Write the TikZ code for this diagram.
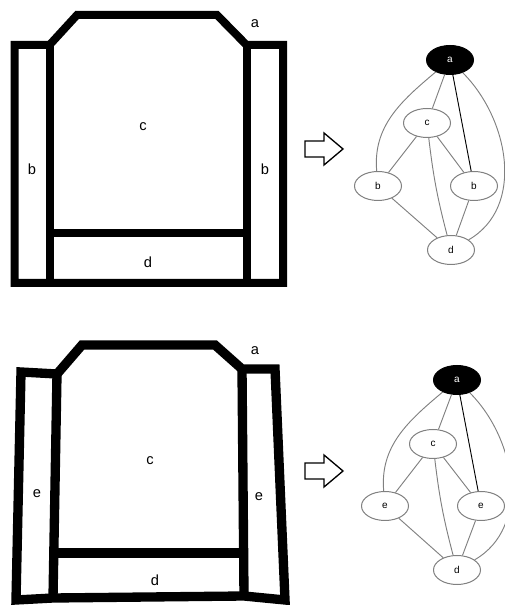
\documentclass[tikz,border=0pt]{standalone}
\usepackage{fontspec}
\setmainfont{Liberation Sans}
\usetikzlibrary{shapes.geometric}
\definecolor{edgegray}{gray}{0.5}
\tikzset{
  wall/.style={line width=6pt, draw=black},
  wallb/.style={line width=7pt, draw=black},
  roomlabel/.style={font=\fontsize{11}{13}\selectfont, inner sep=0pt},
  gnode/.style={ellipse, draw=edgegray, line width=0.75pt, minimum width=35.25pt, minimum height=21.75pt, inner sep=0pt, font=\fontsize{7.5}{9}\selectfont},
  gnodea/.style={gnode, fill=black, draw=black, text=white},
  gedge/.style={draw=edgegray, line width=0.7pt},
  gedgedark/.style={draw=black, line width=0.7pt},
  bigarrow/.style={draw=black, line width=1pt, fill=white, line join=miter}
}
\begin{document}
\begin{tikzpicture}[x=0.75pt,y=0.75pt]
\useasboundingbox (0,0) rectangle (505,605);

% ---------- top plan ----------
\draw[wall] (14.5,322) -- (14.5,560) -- (49.5,560) -- (77,590) -- (217,590) -- (246.5,560) -- (283,560) -- (283,322) -- cycle;
\draw[wall] (49.5,560) -- (49.5,322);
\draw[wall] (246.5,560) -- (246.5,322);
\draw[wall] (49.5,372) -- (246.5,372);
\node[roomlabel] (tc) at (143,478) {c};
\node[roomlabel] (tb1) at (32,436) {b};
\node[roomlabel] (tb2) at (265,436) {b};
\node[roomlabel] (td) at (148,343) {d};
\node[roomlabel] (ta) at (255,581) {a};

% ---------- top arrow ----------
\draw[bigarrow] (305,464) -- (324,464) -- (324,472) -- (343,456) -- (324,440) -- (324,448) -- (305,448) -- cycle;

% ---------- top graph ----------
\node[gnodea] (ga) at (450,545) {a};
\node[gnode] (gc) at (427,482) {c};
\node[gnode] (gb1) at (378,419) {b};
\node[gnode] (gb2) at (474,419) {b};
\node[gnode] (gd) at (451,355) {d};
\draw[gedge] (ga) to[out=220,in=95] (gb1);
\draw[gedge] (ga) -- (gc);
\draw[gedgedark] (ga) -- (gb2);
\draw[gedge] (ga) to[out=-45,in=30] (gd);
\draw[gedge] (gc) -- (gb1);
\draw[gedge] (gc) -- (gb2);
\draw[gedge] (gc) to[bend right=4] (gd);
\draw[gedge] (gb1) -- (gd);
\draw[gedge] (gb2) -- (gd);

% ---------- bottom plan ----------
\draw[wallb] (16,5) -- (21,233) -- (57,231) -- (82,260) -- (215,260) -- (242,236) -- (275,236) -- (285,5) -- (244,9) -- (53,7) -- cycle;
\draw[wallb] (57,231) -- (53,7);
\draw[wallb] (242,236) -- (244,9);
\draw[wallb] (53,52) -- (244,52);
\node[roomlabel] (bc) at (150,144) {c};
\node[roomlabel] (be1) at (37,111) {e};
\node[roomlabel] (be2) at (259,108) {e};
\node[roomlabel] (bd) at (155,25) {d};
\node[roomlabel] (ba) at (255,254) {a};

% ---------- bottom arrow ----------
\draw[bigarrow] (305,142) -- (324,142) -- (324,150) -- (343,134) -- (324,118) -- (324,126) -- (305,126) -- cycle;

% ---------- bottom graph ----------
\node[gnodea] (ha) at (457,225) {a};
\node[gnode] (hc) at (433,161) {c};
\node[gnode] (he1) at (385,99) {e};
\node[gnode] (he2) at (481,99) {e};
\node[gnode] (hd) at (457,35) {d};
\draw[gedge] (ha) to[out=220,in=95] (he1);
\draw[gedge] (ha) -- (hc);
\draw[gedgedark] (ha) -- (he2);
\draw[gedge] (ha) to[out=-45,in=30] (hd);
\draw[gedge] (hc) -- (he1);
\draw[gedge] (hc) -- (he2);
\draw[gedge] (hc) to[bend right=4] (hd);
\draw[gedge] (he1) -- (hd);
\draw[gedge] (he2) -- (hd);
\end{tikzpicture}
\end{document}
